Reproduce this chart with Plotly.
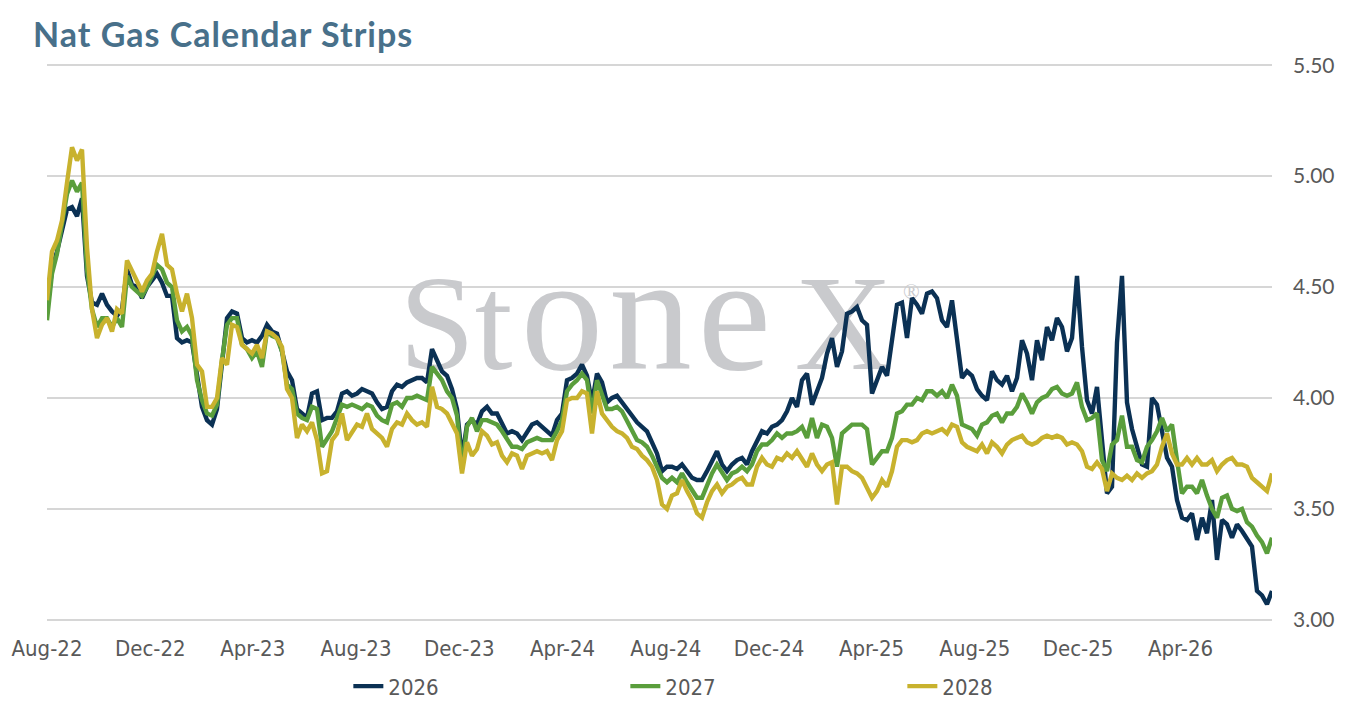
import pandas as pd
import plotly.graph_objects as go

# ---------------- data ----------------
start_date = "2022-08-01"
end_date = "2026-07-18"

strip_2026 = [
    4.39, 4.58, 4.66, 4.76, 4.85, 4.86, 4.82, 4.90, 4.55, 4.43,
    4.42, 4.47, 4.42, 4.39, 4.37, 4.40, 4.58, 4.51, 4.50, 4.45,
    4.50, 4.53, 4.56, 4.52, 4.46, 4.46, 4.27, 4.25, 4.26, 4.25,
    4.09, 3.96, 3.90, 3.88, 3.95, 4.15, 4.36, 4.39, 4.38, 4.27,
    4.25, 4.26, 4.25, 4.28, 4.33, 4.30, 4.29, 4.21, 4.12, 4.08,
    3.95, 3.93, 3.91, 4.02, 4.03, 3.90, 3.91, 3.91, 3.94, 4.02,
    4.03, 4.01, 4.02,
    4.04, 4.03, 4.02, 3.98, 3.95, 3.96, 4.03, 4.06, 4.05, 4.07,
    4.08, 4.09, 4.09, 4.07, 4.22, 4.17, 4.12, 4.10, 4.04, 3.95,
    3.73, 3.88, 3.90, 3.88, 3.94, 3.96, 3.93, 3.93, 3.88, 3.84,
    3.85, 3.84, 3.81, 3.85, 3.88, 3.89, 3.87, 3.85, 3.83, 3.90,
    3.93, 4.08, 4.09, 4.11, 4.15, 4.10, 3.98, 4.11, 4.07, 3.98,
    4.00, 4.01, 3.98, 3.95, 3.92, 3.89, 3.87, 3.85, 3.80, 3.75,
    3.67, 3.69, 3.69, 3.68, 3.70, 3.67, 3.64, 3.63, 3.63, 3.67,
    3.71, 3.76, 3.70, 3.67, 3.70, 3.72, 3.73, 3.70, 3.76, 3.81,
    3.85, 3.84, 3.87, 3.88, 3.90, 3.94, 4.00, 3.96, 4.08, 4.11,
    3.97, 4.03, 4.09, 4.20, 4.27, 4.14, 4.21, 4.38, 4.39, 4.41,
    4.35, 4.33, 4.02, 4.08, 4.14, 4.10, 4.27, 4.42, 4.43, 4.27,
    4.45, 4.42, 4.38, 4.47, 4.48, 4.45, 4.35, 4.32, 4.44, 4.28,
    4.09, 4.12, 4.10, 4.04,
    4.01, 3.99, 4.12, 4.08, 4.06, 4.10, 4.03, 4.09, 4.26, 4.20,
    4.08, 4.26, 4.17, 4.32, 4.26, 4.36, 4.32, 4.21, 4.27, 4.55,
    4.23, 3.99, 3.93, 4.05, 3.81, 3.57, 3.60, 4.25, 4.55, 3.98,
    3.86, 3.78, 3.70, 3.69, 4.00, 3.97, 3.84, 3.73, 3.69, 3.54,
    3.46, 3.45, 3.48, 3.36, 3.46, 3.39, 3.54, 3.27, 3.45, 3.43,
    3.37, 3.43, 3.40, 3.36, 3.33, 3.13, 3.11, 3.07, 3.13,
]

strip_2027 = [
    4.35, 4.56, 4.65, 4.80, 4.92, 4.98, 4.93, 4.97, 4.58, 4.40,
    4.32, 4.36, 4.36, 4.32, 4.36, 4.32, 4.55, 4.50, 4.48, 4.46,
    4.50, 4.55, 4.60, 4.58, 4.52, 4.50, 4.35, 4.30, 4.32, 4.28,
    4.08, 3.99, 3.93, 3.92, 3.97, 4.17, 4.33, 4.36, 4.36, 4.24,
    4.22, 4.18, 4.21, 4.14, 4.30, 4.28, 4.27, 4.21, 4.06, 4.04,
    3.93, 3.91, 3.90, 3.96, 3.95, 3.78, 3.82, 3.85, 3.91, 3.97,
    3.96, 3.97, 3.96,
    3.95, 3.97, 3.96, 3.92, 3.90, 3.89, 3.97, 3.98, 3.96, 4.00,
    4.00, 4.01, 4.00, 3.99, 4.14, 4.11, 4.08, 4.03, 4.00, 3.92,
    3.68, 3.87, 3.91, 3.85, 3.90, 3.90, 3.89, 3.88, 3.85, 3.81,
    3.78, 3.78, 3.77, 3.80, 3.81, 3.82, 3.81, 3.81, 3.81, 3.85,
    3.90, 4.03, 4.06, 4.08, 4.11, 4.08, 3.93, 4.08, 4.02, 3.95,
    3.95, 3.96, 3.94, 3.90, 3.86, 3.81, 3.80, 3.78, 3.74, 3.69,
    3.64, 3.62, 3.64, 3.62, 3.66, 3.62, 3.58, 3.55, 3.55, 3.61,
    3.66, 3.70, 3.66, 3.63, 3.66, 3.67, 3.69, 3.67, 3.70, 3.76,
    3.79, 3.79, 3.81, 3.84, 3.82, 3.84, 3.84, 3.85, 3.87, 3.82,
    3.91, 3.82, 3.88, 3.87, 3.82, 3.69, 3.84, 3.86, 3.88, 3.88,
    3.88, 3.86, 3.70, 3.73, 3.76, 3.76, 3.82, 3.93, 3.94, 3.97,
    3.97, 4.00, 3.99, 4.03, 4.03, 4.01, 4.03, 4.00, 4.06, 4.01,
    3.88, 3.87, 3.86, 3.83,
    3.88, 3.89, 3.92, 3.93, 3.89, 3.93, 3.93, 3.96, 4.02, 3.98,
    3.93, 3.98, 4.00, 4.01, 4.04, 4.05, 4.02, 4.01, 4.02, 4.07,
    3.96, 3.90, 3.91, 3.93, 3.72, 3.67, 3.79, 3.81, 3.92, 3.78,
    3.78, 3.72, 3.71, 3.78, 3.81, 3.85, 3.91, 3.85, 3.88, 3.72,
    3.57, 3.60, 3.60, 3.57, 3.63, 3.56, 3.50, 3.46, 3.55, 3.56,
    3.50, 3.49, 3.50, 3.44, 3.42, 3.38, 3.35, 3.30, 3.37,
]

strip_2028 = [
    4.44, 4.66, 4.71, 4.80, 4.97, 5.13, 5.07, 5.12, 4.68, 4.40,
    4.27, 4.33, 4.36, 4.30, 4.40, 4.38, 4.62, 4.57, 4.52, 4.48,
    4.53, 4.56, 4.66, 4.74, 4.60, 4.58, 4.47, 4.39, 4.47, 4.36,
    4.15, 4.12, 3.96, 3.96, 4.00, 4.18, 4.15, 4.33, 4.32, 4.24,
    4.22, 4.20, 4.24, 4.18, 4.30, 4.29, 4.27, 4.23, 4.04, 4.00,
    3.82, 3.88, 3.85, 3.89, 3.81, 3.66, 3.67, 3.81, 3.84, 3.93,
    3.81, 3.85, 3.88,
    3.87, 3.93, 3.86, 3.84, 3.82, 3.78, 3.86, 3.89, 3.88, 3.93,
    3.90, 3.88, 3.89, 3.87, 4.05, 3.96, 3.95, 3.93, 3.89, 3.84,
    3.66, 3.80, 3.74, 3.77, 3.85, 3.83, 3.79, 3.80, 3.74, 3.71,
    3.75, 3.74, 3.68, 3.74, 3.75, 3.76, 3.75, 3.76, 3.72, 3.81,
    3.85, 3.99, 4.00, 4.00, 4.03, 4.02, 3.84, 4.03, 3.93, 3.90,
    3.87, 3.85, 3.84, 3.82, 3.78, 3.77, 3.74, 3.72, 3.69, 3.63,
    3.52, 3.50, 3.56, 3.57, 3.63, 3.58, 3.54, 3.48, 3.46, 3.53,
    3.58, 3.61, 3.57, 3.60, 3.61, 3.63, 3.64, 3.61, 3.61, 3.69,
    3.73, 3.70, 3.69, 3.73, 3.72, 3.75, 3.73, 3.76, 3.72, 3.69,
    3.75, 3.70, 3.67, 3.70, 3.71, 3.52, 3.69, 3.69, 3.67, 3.66,
    3.64, 3.60, 3.55, 3.58, 3.63, 3.60, 3.67, 3.78, 3.81, 3.81,
    3.80, 3.81, 3.84, 3.85, 3.84, 3.85, 3.86, 3.84, 3.88, 3.87,
    3.80, 3.78, 3.77, 3.76,
    3.79, 3.75, 3.80, 3.78, 3.75, 3.79, 3.81, 3.82, 3.83, 3.80,
    3.79, 3.80, 3.82, 3.83, 3.82, 3.83, 3.82, 3.79, 3.80, 3.79,
    3.76, 3.69, 3.68, 3.71, 3.68, 3.58, 3.66, 3.64, 3.63, 3.65,
    3.63, 3.66, 3.64, 3.66, 3.67, 3.70, 3.78, 3.84, 3.75, 3.70,
    3.70, 3.73, 3.70, 3.73, 3.70, 3.70, 3.72, 3.67, 3.70, 3.72,
    3.73, 3.70, 3.70, 3.69, 3.64, 3.62, 3.60, 3.58, 3.66,
]

series_names = ["2026", "2027", "2028"]
series_colors = ["#0b3154", "#5a9e3c", "#c8b22e"]
tick_dates = ["2022-08-01", "2022-12-01", "2023-04-01", "2023-08-01",
              "2023-12-01", "2024-04-01", "2024-08-01", "2024-12-01",
              "2025-04-01", "2025-08-01", "2025-12-01", "2026-04-01"]
y_ticks = [3.0, 3.5, 4.0, 4.5, 5.0, 5.5]

dates = pd.date_range(start_date, end_date, periods=len(strip_2026))

fig = go.Figure()

# watermark pieces (drawn first so they sit beneath the lines)
wm_parts = [
    ("St", "2023-11-27", 4.284, 136, 0),
    ("one", "2024-07-12", 4.315, 165, 6),
    ("X", "2025-02-27", 4.284, 136, 0),
    ("®", "2025-05-18", 4.47, 22, 0),
]
for txt, d, yv, sz, sp in wm_parts:
    label = f'<span style="letter-spacing:{sp}px">{txt}</span>' if sp else txt
    fig.add_trace(go.Scatter(
        x=[pd.Timestamp(d)], y=[yv], mode="text",
        text=[label],
        textposition="middle center",
        textfont=dict(family="Liberation Serif", size=sz, color="#c9cacd"),
        showlegend=False, hoverinfo="skip", cliponaxis=False,
    ))

for name, vals, col in zip(series_names, [strip_2026, strip_2027, strip_2028], series_colors):
    fig.add_trace(go.Scatter(
        x=dates, y=vals, mode="lines", name=name,
        line=dict(color=col, width=4.4),
    ))

fig.update_layout(
    width=1350, height=707,
    margin=dict(l=47, r=78, t=63, b=85, autoexpand=False),
    paper_bgcolor="white", plot_bgcolor="white",
    title=dict(
        text='<b><span style="letter-spacing:1px">Nat Gas Calendar Strips</span></b>',
        font=dict(family="Lato", size=34, color="#48708a"),
        xref="container", x=33 / 1350, xanchor="left",
        yref="container", y=1 - 35 / 707, yanchor="middle",
    ),
    xaxis=dict(
        type="date",
        range=[start_date, end_date],
        tickvals=tick_dates,
        tickformat="%b-%y",
        showgrid=False, zeroline=False, showline=False,
        ticks="outside", ticklen=7, tickcolor="rgba(0,0,0,0)",
        tickfont=dict(family="DejaVu Sans Condensed", size=22, color="#595959"),
    ),
    yaxis=dict(
        side="right",
        range=[2.99, 5.51],
        tickvals=y_ticks,
        tickformat=".2f",
        showgrid=True, gridcolor="#d6d6d6", gridwidth=1.6,
        zeroline=False, showline=False,
        ticklabelstandoff=20,
        tickfont=dict(family="Lato", size=21, color="#595959"),
    ),
    legend=dict(
        orientation="h",
        x=0.246, xanchor="left",
        y=-0.115, yanchor="middle",
        entrywidth=232, entrywidthmode="pixels",
        font=dict(family="DejaVu Sans Condensed", size=22, color="#595959"),
    ),
    showlegend=True,
)

fig.write_html("out.html")
